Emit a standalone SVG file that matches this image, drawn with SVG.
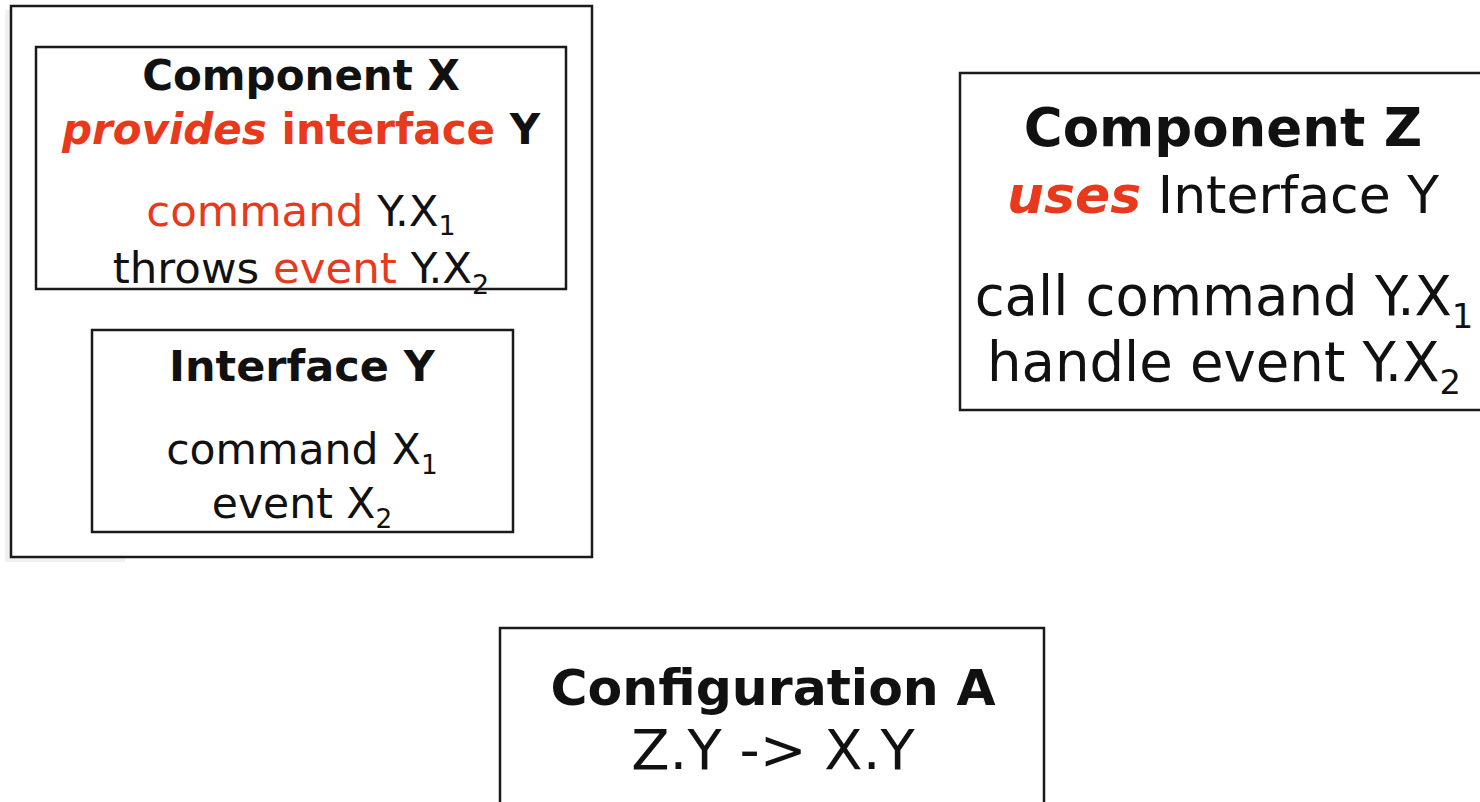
<svg xmlns="http://www.w3.org/2000/svg" width="1480" height="802" viewBox="0 0 1480 802">
<style>
text{font-family:"DejaVu Sans",Verdana,sans-serif;fill:#111;text-anchor:middle}
.b{font-weight:bold}
.r{fill:#e8391d}
.i{font-style:italic}
.box{fill:#fff;stroke:#1a1a1a;stroke-width:2.5}
.sub{font-size:0.62em}
</style>
<rect width="1480" height="802" fill="#fff"/>
<g id="componentX">
<rect x="5" y="10" width="5" height="550" fill="#f0f0f0"/>
<rect x="5" y="556" width="120" height="6" fill="#f0f0f0"/>
<rect class="box" x="11" y="6" width="581" height="551"/>
<rect class="box" x="36" y="47" width="530" height="242"/>
<text x="301" y="90" class="b" font-size="42">Component X</text>
<text x="301" y="144" class="b" font-size="42"><tspan class="r i">provides</tspan> <tspan class="r">interface</tspan> Y</text>
<text x="301" y="226" font-size="43.5"><tspan class="r">command</tspan> Y.X<tspan class="sub" dy="9">1</tspan></text>
<text x="301" y="283" font-size="43.5">throws <tspan class="r">event</tspan> Y.X<tspan class="sub" dy="11">2</tspan></text>
</g>
<g id="interfaceY">
<rect class="box" x="92" y="330" width="421" height="202"/>
<text x="302" y="381" class="b" font-size="43">Interface Y</text>
<text x="302" y="464" font-size="42.5">command X<tspan class="sub" dy="10">1</tspan></text>
<text x="302" y="518" font-size="42.5">event X<tspan class="sub" dy="10">2</tspan></text>
</g>
<g id="componentZ">
<rect class="box" x="960" y="73" width="530" height="337"/>
<text x="1223" y="146" class="b" font-size="53">Component Z</text>
<text x="1223" y="213" font-size="52"><tspan class="r b i">uses</tspan> Interface Y</text>
<text x="1224" y="315" font-size="54.5">call command Y.X<tspan class="sub" dy="13">1</tspan></text>
<text x="1224" y="381" font-size="54.5">handle event Y.X<tspan class="sub" dy="13">2</tspan></text>
</g>
<g id="configurationA">
<rect class="box" x="500" y="628" width="544" height="190"/>
<text x="773" y="705" class="b" font-size="50.5">Configuration A</text>
<text x="773" y="769" font-size="56">Z.Y -&gt; X.Y</text>
</g>
<g id="connectors"/>
</svg>
